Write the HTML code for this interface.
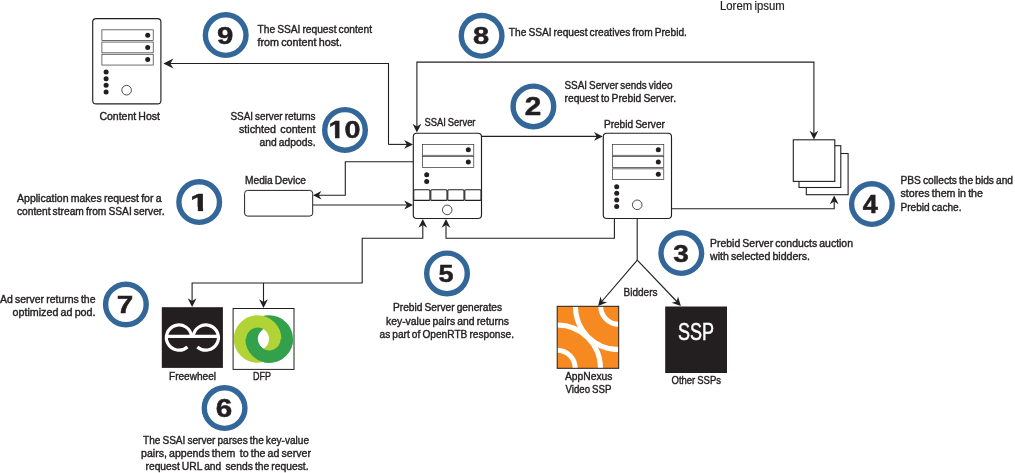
<!DOCTYPE html>
<html lang="en">
<head>
<meta charset="utf-8">
<title>SSAI Prebid Server flow</title>
<style>
html,body{margin:0;padding:0;background:#fff;}
body{width:1015px;height:473px;overflow:hidden;}
svg{display:block;will-change:transform;}
text{font-family:"Liberation Sans",sans-serif;fill:#231f20;}
.t{stroke:#231f20;stroke-width:0.4px;word-spacing:-0.8px;}
</style>
</head>
<body>
<svg width="1015" height="473" viewBox="0 0 1015 473">
<rect width="1015" height="473" fill="#fff"/>
<polyline points="388.5,144.4 388.5,63.5 166,63.5" fill="none" stroke="#231f20" stroke-width="1.1"/>
<polyline points="388.5,144.4 408,144.4" fill="none" stroke="#231f20" stroke-width="1.1"/>
<polygon points="163.3,63.5 173.4,58.4 170.3,63.5 173.4,68.6" fill="#231f20"/>
<polygon points="413.0,144.4 404.2,140.0 406.9,144.4 404.2,148.8" fill="#231f20"/>
<polyline points="416.9,128 416.9,62.1 813.9,62.1 813.9,135" fill="none" stroke="#231f20" stroke-width="1.1"/>
<polygon points="416.9,132.6 412.5,123.8 416.9,126.5 421.3,123.8" fill="#231f20"/>
<polygon points="813.9,139.5 809.5,130.7 813.9,133.4 818.3,130.7" fill="#231f20"/>
<polyline points="481.5,136.4 598,136.4" fill="none" stroke="#231f20" stroke-width="1.1"/>
<polygon points="602.8,136.4 594.0,132.0 596.7,136.4 594.0,140.8" fill="#231f20"/>
<polyline points="413.3,161.8 345.3,161.8 345.3,195.2 318,195.2" fill="none" stroke="#231f20" stroke-width="1.1"/>
<polygon points="313.0,195.2 321.4,191.0 318.8,195.2 321.4,199.4" fill="#231f20"/>
<polyline points="313,205 408,205" fill="none" stroke="#231f20" stroke-width="1.1"/>
<polygon points="413.0,205.0 404.2,200.6 406.9,205.0 404.2,209.4" fill="#231f20"/>
<polyline points="671.5,208.8 834.2,208.8 834.2,200" fill="none" stroke="#231f20" stroke-width="1.1"/>
<polygon points="834.2,195.5 829.8,204.3 834.2,201.6 838.6,204.3" fill="#231f20"/>
<polyline points="614.4,218.5 614.4,238.3 446,238.3 446,224" fill="none" stroke="#231f20" stroke-width="1.1"/>
<polygon points="446.0,219.0 441.6,227.8 446.0,225.1 450.4,227.8" fill="#231f20"/>
<polyline points="422.8,224 422.8,238.3 362.2,238.3 362.2,283 192.1,283 192.1,302" fill="none" stroke="#231f20" stroke-width="1.1"/>
<polygon points="422.8,219.0 418.4,227.8 422.8,225.1 427.2,227.8" fill="#231f20"/>
<polygon points="192.1,307.0 187.7,298.2 192.1,300.9 196.5,298.2" fill="#231f20"/>
<polyline points="263.5,283 263.5,303" fill="none" stroke="#231f20" stroke-width="1.1"/>
<polygon points="263.5,308.0 259.1,299.2 263.5,301.9 267.9,299.2" fill="#231f20"/>
<polyline points="637.2,218.5 637.2,260" fill="none" stroke="#231f20" stroke-width="1.1"/>
<polyline points="637.3,260.2 600.5,303" fill="none" stroke="#231f20" stroke-width="1.15"/>
<polyline points="637.3,260.2 678.2,303" fill="none" stroke="#231f20" stroke-width="1.15"/>
<polygon points="598.1,306.0 600.5,296.5 602.1,301.4 607.2,302.2" fill="#231f20"/>
<polygon points="680.9,306.0 671.6,302.7 676.7,301.6 678.0,296.6" fill="#231f20"/>
<rect x="92.7" y="18.6" width="68.2" height="85.3" rx="3.5" ry="3.5" fill="#fff" stroke="#231f20" stroke-width="1.15"/>
<rect x="101.9" y="29.85" width="51.3" height="10.8" fill="#fff" stroke="#231f20" stroke-width="0.65"/>
<circle cx="147.7" cy="35.2" r="2.5" fill="#231f20"/>
<rect x="101.9" y="42.05" width="51.3" height="10.8" fill="#fff" stroke="#231f20" stroke-width="0.65"/>
<circle cx="147.7" cy="47.4" r="2.5" fill="#231f20"/>
<rect x="101.9" y="54.25" width="51.3" height="10.8" fill="#fff" stroke="#231f20" stroke-width="0.65"/>
<circle cx="147.7" cy="59.6" r="2.5" fill="#231f20"/>
<circle cx="106.10000000000001" cy="72.1" r="2.5" fill="#231f20"/>
<circle cx="106.10000000000001" cy="78.69999999999999" r="2.5" fill="#231f20"/>
<circle cx="106.10000000000001" cy="85.3" r="2.5" fill="#231f20"/>
<circle cx="106.10000000000001" cy="91.89999999999999" r="2.5" fill="#231f20"/>
<circle cx="126.6" cy="90.19999999999999" r="4.8" fill="#fff" stroke="#231f20" stroke-width="0.8"/>
<rect x="413.3" y="133.2" width="68.2" height="85.3" rx="3.5" ry="3.5" fill="#fff" stroke="#231f20" stroke-width="1.15"/>
<rect x="422.5" y="144.45" width="51.3" height="10.8" fill="#fff" stroke="#231f20" stroke-width="0.65"/>
<circle cx="468.3" cy="149.8" r="2.5" fill="#231f20"/>
<rect x="422.5" y="156.64999999999998" width="51.3" height="10.8" fill="#fff" stroke="#231f20" stroke-width="0.65"/>
<circle cx="468.3" cy="162.0" r="2.5" fill="#231f20"/>
<circle cx="426.7" cy="174.7" r="2.5" fill="#231f20"/>
<circle cx="426.7" cy="181.39999999999998" r="2.5" fill="#231f20"/>
<circle cx="447.2" cy="209.89999999999998" r="4.8" fill="#fff" stroke="#231f20" stroke-width="0.8"/>
<rect x="413.7" y="189.8" width="16.2" height="10.6" rx="1" fill="#fff" stroke="#231f20" stroke-width="1.1"/>
<rect x="430.8" y="189.8" width="16.2" height="10.6" rx="1" fill="#fff" stroke="#231f20" stroke-width="1.1"/>
<rect x="447.8" y="189.8" width="16.2" height="10.6" rx="1" fill="#fff" stroke="#231f20" stroke-width="1.1"/>
<rect x="464.8" y="189.8" width="16.2" height="10.6" rx="1" fill="#fff" stroke="#231f20" stroke-width="1.1"/>
<rect x="603.3" y="133.2" width="68.2" height="85.3" rx="3.5" ry="3.5" fill="#fff" stroke="#231f20" stroke-width="1.15"/>
<rect x="612.5" y="144.45" width="51.3" height="10.8" fill="#fff" stroke="#231f20" stroke-width="0.65"/>
<circle cx="658.3" cy="149.8" r="2.5" fill="#231f20"/>
<rect x="612.5" y="156.64999999999998" width="51.3" height="10.8" fill="#fff" stroke="#231f20" stroke-width="0.65"/>
<circle cx="658.3" cy="162.0" r="2.5" fill="#231f20"/>
<rect x="612.5" y="168.85" width="51.3" height="10.8" fill="#fff" stroke="#231f20" stroke-width="0.65"/>
<circle cx="658.3" cy="174.2" r="2.5" fill="#231f20"/>
<circle cx="616.6999999999999" cy="186.7" r="2.5" fill="#231f20"/>
<circle cx="616.6999999999999" cy="193.29999999999998" r="2.5" fill="#231f20"/>
<circle cx="616.6999999999999" cy="199.89999999999998" r="2.5" fill="#231f20"/>
<circle cx="616.6999999999999" cy="206.5" r="2.5" fill="#231f20"/>
<circle cx="637.1999999999999" cy="204.79999999999998" r="4.8" fill="#fff" stroke="#231f20" stroke-width="0.8"/>
<rect x="244.6" y="190.4" width="68.1" height="25.7" rx="3" fill="#fff" stroke="#231f20" stroke-width="1"/>
<rect x="806.3" y="153.5" width="41.8" height="41.2" fill="#fff" stroke="#231f20" stroke-width="1.1"/>
<rect x="799" y="145.7" width="41.8" height="41.8" fill="#fff" stroke="#231f20" stroke-width="1.1"/>
<rect x="793.3" y="139.8" width="41.5" height="41.6" fill="#fff" stroke="#231f20" stroke-width="1.1"/>
<rect x="161.8" y="307.2" width="61.1" height="60.7" fill="#231f20"/>
<g fill="none" stroke="#fff" stroke-width="3.2"><path d="M191.53,336.28 A12.6,12.6 0 1 0 187.43,346.96"/><path d="M193.27,336.28 A12.6,12.6 0 1 1 197.37,346.96"/><path d="M165.6,336.3 H219.2"/></g>
<rect x="233.1" y="308.5" width="60.9" height="60.9" fill="#fff" stroke="#231f20" stroke-width="1"/>
<clipPath id="lowhalf"><rect x="233" y="339" width="62" height="31"/></clipPath>
<g fill="none" stroke-width="12.4"><circle cx="269.2" cy="339" r="17.6" stroke="#33a04b"/><circle cx="257.6" cy="339" r="17.6" stroke="#b1d335"/><circle cx="269.2" cy="339" r="17.6" stroke="#33a04b" clip-path="url(#lowhalf)"/></g>
<clipPath id="anx"><rect x="557.2" y="306.3" width="61.5" height="62"/></clipPath>
<rect x="557.2" y="306.3" width="61.5" height="62" fill="#f6891f"/>
<g fill="none" stroke="#fff" stroke-width="5" clip-path="url(#anx)"><circle cx="618.7" cy="306.3" r="18"/><circle cx="618.7" cy="306.3" r="43.3"/><circle cx="557.2" cy="368.3" r="18"/><circle cx="557.2" cy="368.3" r="43.3"/></g>
<rect x="557.2" y="306.3" width="61.5" height="62" fill="none" stroke="#231f20" stroke-width="1"/>
<rect x="665.2" y="306.5" width="61.8" height="66.5" fill="#231f20"/>
<text x="696" y="340" text-anchor="middle" font-size="23.6" style="fill:#fff;stroke:#fff;stroke-width:0.5px" textLength="36" lengthAdjust="spacingAndGlyphs">SSP</text>
<circle cx="225.7" cy="35.1" r="20.3" fill="#fff" stroke="#336699" stroke-width="5.4"/>
<text transform="matrix(1.2215 0 0 1.0122 217.03 43.81)" font-weight="bold" font-size="24" stroke="#231f20" stroke-width="0.5" stroke-linejoin="miter">9</text>
<circle cx="481.6" cy="35.8" r="20.3" fill="#fff" stroke="#336699" stroke-width="5.4"/>
<text transform="matrix(1.2070 0 0 1.0122 472.93 43.81)" font-weight="bold" font-size="24" stroke="#231f20" stroke-width="0.5" stroke-linejoin="miter">8</text>
<circle cx="533.4" cy="106.4" r="20.3" fill="#fff" stroke="#336699" stroke-width="5.4"/>
<text transform="matrix(1.2376 0 0 1.0503 524.82 114.95)" font-weight="bold" font-size="24" stroke="#231f20" stroke-width="0.5" stroke-linejoin="miter">2</text>
<circle cx="345.0" cy="129.9" r="20.3" fill="#fff" stroke="#336699" stroke-width="5.4"/>
<clipPath id="one1"><rect x="-2" y="-24.00" width="52.8" height="20.65"/><rect x="5.45" y="-3.45" width="3.69" height="4.35"/><rect x="13.84" y="-24" width="24" height="28.799999999999997"/></clipPath>
<text transform="matrix(1.1943 0 0 0.9946 328.54 138.32)" clip-path="url(#one1)" font-weight="bold" font-size="24" stroke="#231f20" stroke-width="0.5" stroke-linejoin="miter">10</text>
<circle cx="199.2" cy="202.1" r="20.3" fill="#fff" stroke="#336699" stroke-width="5.4"/>
<clipPath id="one2"><rect x="-2" y="-24.00" width="52.8" height="20.65"/><rect x="5.45" y="-3.45" width="3.69" height="4.35"/><rect x="13.84" y="-24" width="24" height="28.799999999999997"/></clipPath>
<text transform="matrix(1.4199 0 0 1.0175 190.12 210.65)" clip-path="url(#one2)" font-weight="bold" font-size="24" stroke="#231f20" stroke-width="0.5" stroke-linejoin="miter">1</text>
<circle cx="871.9" cy="204.1" r="20.3" fill="#fff" stroke="#336699" stroke-width="5.4"/>
<text transform="matrix(1.1279 0 0 1.0417 862.74 213.05)" font-weight="bold" font-size="24" stroke="#231f20" stroke-width="0.5" stroke-linejoin="miter">4</text>
<circle cx="681.3" cy="253.1" r="20.3" fill="#fff" stroke="#336699" stroke-width="5.4"/>
<text transform="matrix(1.1652 0 0 1.0101 673.21 261.78)" font-weight="bold" font-size="24" stroke="#231f20" stroke-width="0.5" stroke-linejoin="miter">3</text>
<circle cx="447" cy="273.4" r="20.3" fill="#fff" stroke="#336699" stroke-width="5.4"/>
<text transform="matrix(1.1305 0 0 1.0152 438.62 281.81)" font-weight="bold" font-size="24" stroke="#231f20" stroke-width="0.5" stroke-linejoin="miter">5</text>
<circle cx="125.9" cy="304.5" r="20.3" fill="#fff" stroke="#336699" stroke-width="5.4"/>
<text transform="matrix(1.2343 0 0 1.0114 116.78 312.75)" font-weight="bold" font-size="24" stroke="#231f20" stroke-width="0.5" stroke-linejoin="miter">7</text>
<circle cx="224.6" cy="408.1" r="20.3" fill="#fff" stroke="#336699" stroke-width="5.4"/>
<text transform="matrix(1.2326 0 0 1.0358 215.77 416.81)" font-weight="bold" font-size="24" stroke="#231f20" stroke-width="0.5" stroke-linejoin="miter">6</text>
<text class="t" style="stroke-width:0.2px" x="720.0" y="9.5" font-size="12.0" textLength="64.8" lengthAdjust="spacingAndGlyphs" xml:space="preserve">Lorem ipsum</text>
<text class="t" x="257.5" y="33" font-size="10.9" textLength="114.5" lengthAdjust="spacingAndGlyphs" xml:space="preserve">The SSAI request content</text>
<text class="t" x="257.5" y="45.6" font-size="10.9" textLength="84.5" lengthAdjust="spacingAndGlyphs" xml:space="preserve">from content host.</text>
<text class="t" x="508.8" y="35.8" font-size="10.9" textLength="178.1" lengthAdjust="spacingAndGlyphs" xml:space="preserve">The SSAI request creatives from Prebid.</text>
<text class="t" x="564.5" y="89" font-size="10.9" textLength="108.0" lengthAdjust="spacingAndGlyphs" xml:space="preserve">SSAI Server sends video</text>
<text class="t" x="564.5" y="102" font-size="10.9" textLength="111.5" lengthAdjust="spacingAndGlyphs" xml:space="preserve">request to Prebid Server.</text>
<text class="t" x="99.4" y="120" font-size="10.9" textLength="60.6" lengthAdjust="spacingAndGlyphs" xml:space="preserve">Content Host</text>
<text class="t" x="230.5" y="120" font-size="10.9" textLength="85.0" lengthAdjust="spacingAndGlyphs" xml:space="preserve">SSAI server returns</text>
<text class="t" x="239" y="133" font-size="10.9" textLength="76.5" lengthAdjust="spacingAndGlyphs" xml:space="preserve">stichted  content</text>
<text class="t" x="259.5" y="146" font-size="10.9" textLength="56.0" lengthAdjust="spacingAndGlyphs" xml:space="preserve">and adpods.</text>
<text class="t" x="245" y="184" font-size="10.9" textLength="61.0" lengthAdjust="spacingAndGlyphs" xml:space="preserve">Media Device</text>
<text class="t" x="17" y="202" font-size="10.9" textLength="144.5" lengthAdjust="spacingAndGlyphs" xml:space="preserve">Application makes request for a</text>
<text class="t" x="17" y="215" font-size="10.9" textLength="147.5" lengthAdjust="spacingAndGlyphs" xml:space="preserve">content stream from SSAI server.</text>
<text class="t" x="424.5" y="126" font-size="10.9" textLength="51.0" lengthAdjust="spacingAndGlyphs" xml:space="preserve">SSAI Server</text>
<text class="t" x="603.9" y="128" font-size="10.9" textLength="61.0" lengthAdjust="spacingAndGlyphs" xml:space="preserve">Prebid Server</text>
<text class="t" x="900.5" y="184" font-size="10.9" textLength="112.5" lengthAdjust="spacingAndGlyphs" xml:space="preserve">PBS collects the bids and</text>
<text class="t" x="900.5" y="197" font-size="10.9" textLength="82.5" lengthAdjust="spacingAndGlyphs" xml:space="preserve">stores them in the</text>
<text class="t" x="900.5" y="211" font-size="10.9" textLength="61.0" lengthAdjust="spacingAndGlyphs" xml:space="preserve">Prebid cache.</text>
<text class="t" x="710" y="246.8" font-size="10.9" textLength="143.0" lengthAdjust="spacingAndGlyphs" xml:space="preserve">Prebid Server conducts auction</text>
<text class="t" x="710" y="260" font-size="10.9" textLength="100.0" lengthAdjust="spacingAndGlyphs" xml:space="preserve">with selected bidders.</text>
<text class="t" x="623.5" y="296" font-size="10.9" textLength="34.0" lengthAdjust="spacingAndGlyphs" xml:space="preserve">Bidders</text>
<text class="t" x="0" y="303" font-size="10.9" textLength="95.5" lengthAdjust="spacingAndGlyphs" xml:space="preserve">Ad server returns the</text>
<text class="t" x="12.5" y="316" font-size="10.9" textLength="83.0" lengthAdjust="spacingAndGlyphs" xml:space="preserve">optimized ad pod.</text>
<text class="t" x="393" y="311" font-size="10.9" textLength="109.0" lengthAdjust="spacingAndGlyphs" xml:space="preserve">Prebid Server generates</text>
<text class="t" x="386" y="325" font-size="10.9" textLength="123.0" lengthAdjust="spacingAndGlyphs" xml:space="preserve">key-value pairs and returns</text>
<text class="t" x="379.5" y="338" font-size="10.9" textLength="134.5" lengthAdjust="spacingAndGlyphs" xml:space="preserve">as part of OpenRTB response.</text>
<text class="t" x="169" y="380" font-size="10.9" textLength="47.0" lengthAdjust="spacingAndGlyphs" xml:space="preserve">Freewheel</text>
<text class="t" x="253" y="380" font-size="10.9" textLength="18.0" lengthAdjust="spacingAndGlyphs" xml:space="preserve">DFP</text>
<text class="t" x="565" y="380" font-size="10.9" textLength="47.5" lengthAdjust="spacingAndGlyphs" xml:space="preserve">AppNexus</text>
<text class="t" x="565.5" y="393" font-size="10.9" textLength="46.0" lengthAdjust="spacingAndGlyphs" xml:space="preserve">Video SSP</text>
<text class="t" x="671.5" y="384.2" font-size="10.9" textLength="49.5" lengthAdjust="spacingAndGlyphs" xml:space="preserve">Other SSPs</text>
<text class="t" x="143" y="444" font-size="10.9" textLength="166.0" lengthAdjust="spacingAndGlyphs" xml:space="preserve">The SSAI server parses the key-value</text>
<text class="t" x="141" y="457" font-size="10.9" textLength="170.0" lengthAdjust="spacingAndGlyphs" xml:space="preserve">pairs, appends them  to the ad server</text>
<text class="t" x="145.5" y="470" font-size="10.9" textLength="163.0" lengthAdjust="spacingAndGlyphs" xml:space="preserve">request URL and  sends the request.</text>
</svg>
</body>
</html>
